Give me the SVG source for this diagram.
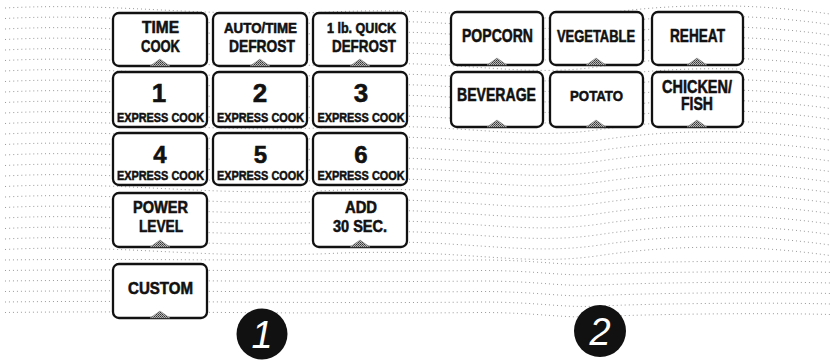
<svg xmlns="http://www.w3.org/2000/svg" xmlns:xlink="http://www.w3.org/1999/xlink" width="830" height="363" viewBox="0 0 830 363">
<style>
.btn{fill:#fff;stroke:#111;stroke-width:2.3}
.tri{fill:url(#dots);stroke:#888;stroke-width:0.5}
.t{font-family:"Liberation Sans",Arial,sans-serif;font-weight:bold;fill:#111;stroke:#111;stroke-width:0.55;text-anchor:middle}
.bg{fill:none;stroke:#9a9a9a;stroke-width:1;stroke-dasharray:1 3}
.num{fill:#111}
.numt{font-family:"Liberation Sans",Arial,sans-serif;font-style:italic;fill:#fff;text-anchor:middle}
</style>
<defs>
<pattern id="dots" width="2" height="2" patternUnits="userSpaceOnUse">
<rect width="2" height="2" fill="#bbb"/>
<rect width="1" height="1" fill="#333"/>
<rect x="1" y="1" width="1" height="1" fill="#555"/>
</pattern>
<path id="w" d="M5,0 C120,-6 200,10 330,4 S520,18 600,6 S760,-4 830,6"/>
<path id="wf" d="M5,0 C150,-2 300,2 480,0 C540,0 560,6 600,4 S760,0 830,2"/>
<clipPath id="bgclip"><rect x="0" y="0" width="830" height="318"/></clipPath>
</defs>
<rect width="830" height="363" fill="#fff"/>
<g id="background" clip-path="url(#bgclip)">
<use xlink:href="#w" class="bg" y="8"/>
<use xlink:href="#w" class="bg" y="18.5"/>
<use xlink:href="#w" class="bg" y="29"/>
<use xlink:href="#w" class="bg" y="39.5"/>
<use xlink:href="#w" class="bg" y="50"/>
<use xlink:href="#w" class="bg" y="60.5"/>
<use xlink:href="#w" class="bg" y="71"/>
<use xlink:href="#w" class="bg" y="81.5"/>
<use xlink:href="#w" class="bg" y="92"/>
<use xlink:href="#w" class="bg" y="102.5"/>
<use xlink:href="#w" class="bg" y="113"/>
<use xlink:href="#w" class="bg" y="123.5"/>
<use xlink:href="#w" class="bg" y="134"/>
<use xlink:href="#w" class="bg" y="144.5"/>
<use xlink:href="#w" class="bg" y="155"/>
<use xlink:href="#w" class="bg" y="165.5"/>
<use xlink:href="#w" class="bg" y="176"/>
<use xlink:href="#w" class="bg" y="186.5"/>
<use xlink:href="#w" class="bg" y="197"/>
<use xlink:href="#w" class="bg" y="207.5"/>
<use xlink:href="#w" class="bg" y="218"/>
<use xlink:href="#w" class="bg" y="228.5"/>
<use xlink:href="#w" class="bg" y="239"/>
<use xlink:href="#w" class="bg" y="249.5"/>
<use xlink:href="#wf" class="bg" y="260"/>
<use xlink:href="#wf" class="bg" y="270.5"/>
<use xlink:href="#wf" class="bg" y="281"/>
<use xlink:href="#wf" class="bg" y="291.5"/>
<use xlink:href="#wf" class="bg" y="302"/>
<use xlink:href="#wf" class="bg" y="312.5"/>
</g>

<g id="btn-time-cook">
<rect class="btn" x="113" y="13" width="94" height="53" rx="6"/>
<polygon class="tri" points="150,66 160,59 170,66"/>
<text class="t" x="160.5" y="33" font-size="17" textLength="37" lengthAdjust="spacingAndGlyphs">TIME</text>
<text class="t" x="160.5" y="52" font-size="17" textLength="39" lengthAdjust="spacingAndGlyphs">COOK</text>
</g>
<g id="btn-auto-time-defrost">
<rect class="btn" x="213" y="13" width="94" height="53" rx="6"/>
<polygon class="tri" points="250,66 260,59 270,66"/>
<text class="t" x="260.5" y="33" font-size="14" textLength="73" lengthAdjust="spacingAndGlyphs">AUTO/TIME</text>
<text class="t" x="262" y="52" font-size="17" textLength="66" lengthAdjust="spacingAndGlyphs">DEFROST</text>
</g>
<g id="btn-quick-defrost">
<rect class="btn" x="313" y="13" width="94" height="53" rx="6"/>
<polygon class="tri" points="350,66 360,59 370,66"/>
<text class="t" x="361.5" y="33" font-size="14" textLength="69" lengthAdjust="spacingAndGlyphs">1 lb. QUICK</text>
<text class="t" x="364" y="52" font-size="17" textLength="64" lengthAdjust="spacingAndGlyphs">DEFROST</text>
</g>

<g id="btn-1">
<rect class="btn" x="113" y="72" width="94" height="55" rx="6"/>
<text class="t" x="159" y="101.5" font-size="26">1</text>
<text class="t" x="160.5" y="122" font-size="13.5" textLength="87" lengthAdjust="spacingAndGlyphs">EXPRESS COOK</text>
</g>
<g id="btn-2">
<rect class="btn" x="213" y="72" width="94" height="55" rx="6"/>
<text class="t" x="260" y="101.5" font-size="26">2</text>
<text class="t" x="260.5" y="122" font-size="13.5" textLength="87" lengthAdjust="spacingAndGlyphs">EXPRESS COOK</text>
</g>
<g id="btn-3">
<rect class="btn" x="313" y="72" width="94" height="55" rx="6"/>
<text class="t" x="361" y="101.5" font-size="26">3</text>
<text class="t" x="361" y="122" font-size="13.5" textLength="87" lengthAdjust="spacingAndGlyphs">EXPRESS COOK</text>
</g>

<g id="btn-4">
<rect class="btn" x="113" y="133" width="94" height="52" rx="6"/>
<text class="t" x="160" y="163" font-size="24">4</text>
<text class="t" x="160.5" y="180" font-size="13.5" textLength="87" lengthAdjust="spacingAndGlyphs">EXPRESS COOK</text>
</g>
<g id="btn-5">
<rect class="btn" x="213" y="133" width="94" height="52" rx="6"/>
<text class="t" x="260.5" y="163" font-size="24">5</text>
<text class="t" x="260.5" y="180" font-size="13.5" textLength="87" lengthAdjust="spacingAndGlyphs">EXPRESS COOK</text>
</g>
<g id="btn-6">
<rect class="btn" x="313" y="133" width="94" height="52" rx="6"/>
<text class="t" x="361" y="163" font-size="24">6</text>
<text class="t" x="361" y="180" font-size="13.5" textLength="87" lengthAdjust="spacingAndGlyphs">EXPRESS COOK</text>
</g>

<g id="btn-power-level">
<rect class="btn" x="113" y="193" width="94" height="54" rx="6"/>
<polygon class="tri" points="150,247 160,240 170,247"/>
<text class="t" x="160.5" y="213" font-size="16" textLength="55" lengthAdjust="spacingAndGlyphs">POWER</text>
<text class="t" x="161" y="232" font-size="16" textLength="44" lengthAdjust="spacingAndGlyphs">LEVEL</text>
</g>
<g id="btn-add-30">
<rect class="btn" x="313" y="193" width="94" height="54" rx="6"/>
<polygon class="tri" points="350,247 360,240 370,247"/>
<text class="t" x="361" y="213" font-size="16" textLength="32" lengthAdjust="spacingAndGlyphs">ADD</text>
<text class="t" x="360" y="232" font-size="16" textLength="54" lengthAdjust="spacingAndGlyphs">30 SEC.</text>
</g>

<g id="btn-custom">
<rect class="btn" x="113" y="264" width="94" height="54" rx="6"/>
<polygon class="tri" points="150,318 160,311 170,318"/>
<text class="t" x="160.5" y="294" font-size="16" textLength="65" lengthAdjust="spacingAndGlyphs">CUSTOM</text>
</g>

<g id="btn-popcorn">
<rect class="btn" x="451" y="12" width="92" height="53" rx="6"/>
<polygon class="tri" points="487,65 497,58 507,65"/>
<text class="t" x="497.5" y="42" font-size="18.5" textLength="71" lengthAdjust="spacingAndGlyphs">POPCORN</text>
</g>
<g id="btn-vegetable">
<rect class="btn" x="550" y="12" width="93" height="53" rx="6"/>
<polygon class="tri" points="586,65 596,58 606,65"/>
<text class="t" x="596" y="42" font-size="16.5" textLength="78" lengthAdjust="spacingAndGlyphs">VEGETABLE</text>
</g>
<g id="btn-reheat">
<rect class="btn" x="652" y="12" width="91" height="53" rx="6"/>
<polygon class="tri" points="687,65 697,58 707,65"/>
<text class="t" x="697.5" y="42" font-size="18.5" textLength="55" lengthAdjust="spacingAndGlyphs">REHEAT</text>
</g>
<g id="btn-beverage">
<rect class="btn" x="451" y="72" width="92" height="55" rx="6"/>
<polygon class="tri" points="487,127 497,120 507,127"/>
<text class="t" x="496.5" y="101" font-size="18.5" textLength="79" lengthAdjust="spacingAndGlyphs">BEVERAGE</text>
</g>
<g id="btn-potato">
<rect class="btn" x="550" y="72" width="93" height="55" rx="6"/>
<polygon class="tri" points="586,127 596,120 606,127"/>
<text class="t" x="596.5" y="101" font-size="15.5" textLength="53" lengthAdjust="spacingAndGlyphs">POTATO</text>
</g>
<g id="btn-chicken-fish">
<rect class="btn" x="652" y="72" width="91" height="55" rx="6"/>
<polygon class="tri" points="687,127 697,120 707,127"/>
<text class="t" x="697" y="93" font-size="17.5" textLength="70" lengthAdjust="spacingAndGlyphs">CHICKEN/</text>
<text class="t" x="697" y="110" font-size="17.5" textLength="32" lengthAdjust="spacingAndGlyphs">FISH</text>
</g>

<g id="marker-1">
<circle class="num" cx="262" cy="334" r="25.5"/>
<text class="numt" x="262" y="348" font-size="38">1</text>
</g>
<g id="marker-2">
<circle class="num" cx="600" cy="331" r="26"/>
<text class="numt" x="600" y="345" font-size="38">2</text>
</g>
</svg>
